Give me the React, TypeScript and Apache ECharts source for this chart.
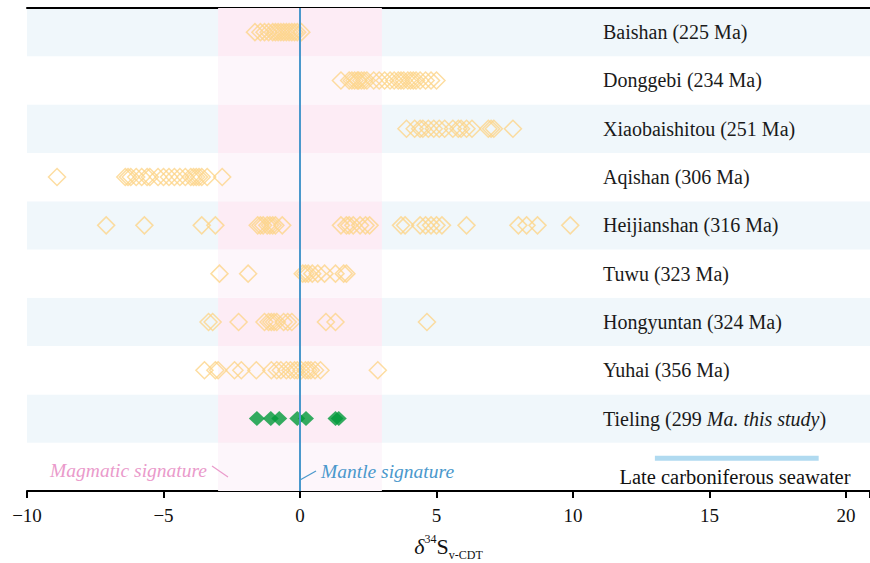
import React, { useEffect, useRef } from "react";
import * as echarts from "echarts";

// Row labels, bottom to top (bottom row is the annotation row)
const rowLabels = [
  "",
  "Tieling",
  "Yuhai (356 Ma)",
  "Hongyuntan (324 Ma)",
  "Tuwu (323 Ma)",
  "Heijianshan (316 Ma)",
  "Aqishan (306 Ma)",
  "Xiaobaishitou (251 Ma)",
  "Donggebi (234 Ma)",
  "Baishan (225 Ma)",
];

const xTicks = [-10, -5, 0, 5, 10, 15, 20];

const baishan = [-1.65, -1.45, -1.3, -1.15, -1.0, -0.9, -0.8, -0.7, -0.6, -0.5, -0.4, -0.3, -0.2, -0.1, 0.05];
const donggebi = [1.5, 1.8, 1.9, 2.0, 2.1, 2.15, 2.25, 2.35, 2.45, 2.7, 2.9, 3.1, 3.3, 3.45, 3.6, 3.7, 3.8, 3.95, 4.05, 4.15, 4.25, 4.4, 4.6, 4.8, 5.0];
const xiaobaishitou = [3.9, 4.2, 4.4, 4.5, 4.7, 4.9, 5.1, 5.3, 5.6, 5.8, 5.9, 6.1, 6.3, 6.9, 7.0, 7.1, 7.8];
const aqishan = [-8.9, -6.4, -6.3, -6.2, -6.0, -5.8, -5.6, -5.5, -5.2, -5.0, -4.8, -4.6, -4.4, -4.2, -4.0, -3.9, -3.8, -3.7, -3.6, -3.4, -2.85];
const heijianshan = [-7.1, -5.7, -3.6, -3.1, -1.55, -1.45, -1.35, -1.2, -1.1, -1.0, -0.9, -0.65, 1.5, 1.7, 1.8, 1.95, 2.2, 2.4, 2.55, 3.7, 3.85, 4.4, 4.6, 4.8, 5.0, 5.2, 6.1, 8.0, 8.3, 8.7, 9.9];
const tuwu = [-2.95, -1.9, 0.1, 0.2, 0.3, 0.45, 0.65, 0.9, 1.3, 1.6, 1.7];
const hongyuntan = [-3.35, -3.2, -2.25, -1.3, -1.15, -1.05, -0.95, -0.85, -0.6, -0.45, -0.3, 0.95, 1.3, 4.65];
const yuhai = [-3.5, -3.1, -3.0, -2.4, -2.15, -1.6, -1.05, -0.85, -0.7, -0.5, -0.35, -0.2, -0.1, 0.05, 0.2, 0.3, 0.4, 0.55, 0.75, 2.85];
const tieling = [-1.58, -1.07, -0.76, -0.1, 0.22, 1.3, 1.42];

const magmaticRange = [-3, 3];
const mantleValue = 0;
const seawaterRange = [13, 19];

const SERIF = "'Liberation Serif', 'DejaVu Serif', serif";

export default function App() {
  const ref = useRef<HTMLDivElement>(null);
  useEffect(() => {
    if (!ref.current) return;
    const chart = echarts.init(ref.current, undefined, { renderer: "svg" });

    const hollowRows: [string, number[], number][] = [
      ["Baishan", baishan, 9.5],
      ["Donggebi", donggebi, 8.5],
      ["Xiaobaishitou", xiaobaishitou, 7.5],
      ["Aqishan", aqishan, 6.5],
      ["Heijianshan", heijianshan, 5.5],
      ["Tuwu", tuwu, 4.5],
      ["Hongyuntan", hongyuntan, 3.5],
      ["Yuhai", yuhai, 2.5],
    ];

    const pinkAreas = rowLabels.map((_, i) => [
      { xAxis: magmaticRange[0], yAxis: i, itemStyle: { color: i % 2 === 1 ? "#fdecf5" : "#fdf6fb" } },
      { xAxis: magmaticRange[1], yAxis: i + 1 },
    ]);

    const series: any[] = [
      {
        type: "scatter",
        data: [],
        z: 1,
        silent: true,
        markArea: { silent: true, data: pinkAreas },
      },
      ...hollowRows.map(([name, vals, y]) => ({
        type: "scatter",
        name,
        z: 3,
        symbol: "diamond",
        symbolSize: 17,
        itemStyle: { color: "rgba(0,0,0,0)", borderColor: "#fdd58a", borderWidth: 1.5 },
        data: vals.map((v) => [v, y]),
      })),
      {
        type: "scatter",
        name: "Tieling",
        z: 4,
        symbol: "diamond",
        symbolSize: [16, 15],
        itemStyle: { color: "#009a3a" },
        data: tieling.map((v) => [v, 1.5]),
      },
      {
        type: "line",
        z: 2,
        silent: true,
        symbol: "none",
        lineStyle: { color: "#b0daf0", width: 5 },
        data: [
          [seawaterRange[0], 0.68],
          [seawaterRange[1], 0.68],
        ],
      },
      {
        type: "scatter",
        data: [],
        z: 6,
        markLine: {
          silent: true,
          symbol: "none",
          label: { show: false },
          lineStyle: { color: "#4a98cc", width: 2, type: "solid" },
          data: [{ xAxis: mantleValue }],
        },
      },
    ];

    chart.setOption({
      animation: false,
      grid: { left: 27, right: 0, top: 8, bottom: 72, containLabel: false, outerBoundsMode: "none" },
      xAxis: [
        {
          type: "value",
          min: -10,
          max: 20.88,
          interval: 5,
          position: "bottom",
          axisLine: { show: true, onZero: false, lineStyle: { color: "#000", width: 2 } },
          axisTick: { show: true, length: 7, lineStyle: { color: "#000", width: 2 } },
          splitLine: { show: false },
          axisLabel: {
            color: "#111",
            fontFamily: SERIF,
            fontSize: 19,
            margin: 15,
            formatter: (v: number) => (xTicks.includes(v) ? String(v).replace("-", "\u2212") : ""),
          },
          name: "{d|\u03b4}{sup|34}{s|S}{sub|v-CDT}",
          nameLocation: "middle",
          nameGap: 42,
          nameTextStyle: {
            color: "#111",
            fontFamily: SERIF,
            rich: {
              d: { fontFamily: SERIF, fontStyle: "italic", fontSize: 22, color: "#111", lineHeight: 24, verticalAlign: "bottom" },
              sup: { fontFamily: SERIF, fontSize: 12, color: "#111", verticalAlign: "top", lineHeight: 24 },
              s: { fontFamily: SERIF, fontSize: 22, color: "#111", lineHeight: 24, verticalAlign: "bottom" },
              sub: { fontFamily: SERIF, fontSize: 12, color: "#111", verticalAlign: "bottom", lineHeight: 12, padding: [0, 0, -4, 0] },
            },
          },
        },
        {
          type: "value",
          min: -10,
          max: 20.88,
          position: "top",
          axisLine: { show: true, onZero: false, lineStyle: { color: "#000", width: 2 } },
          axisTick: { show: false },
          axisLabel: { show: false },
          splitLine: { show: false },
        },
      ],
      yAxis: [
        {
          type: "value",
          min: 0,
          max: 10,
          interval: 1,
          axisLine: { show: false },
          axisTick: { show: false },
          axisLabel: { show: false },
          splitLine: { show: false },
          splitArea: { show: true, areaStyle: { color: ["#ffffff", "#f0f7fb"] } },
        },
        {
          type: "category",
          data: rowLabels,
          position: "left",
          axisLine: { show: false },
          axisTick: { show: false },
          splitLine: { show: false },
          axisLabel: {
            inside: true,
            margin: 576,
            align: "left",
            color: "#1a1a1a",
            fontFamily: SERIF,
            fontSize: 20,
            formatter: (v: string) => (v === "Tieling" ? "Tieling (299 {i|Ma. this study})" : v),
            rich: { i: { fontFamily: SERIF, fontStyle: "italic", fontSize: 20, color: "#1a1a1a" } },
          },
        },
      ],
      graphic: [
        {
          type: "text",
          x: 207,
          y: 470,
          style: {
            text: "Magmatic signature",
            fill: "#ea9acb",
            font: `italic 19.5px ${SERIF}`,
            align: "right",
            verticalAlign: "middle",
          },
          z: 10,
        },
        {
          type: "line",
          shape: { x1: 212, y1: 466, x2: 228, y2: 477 },
          style: { stroke: "#ea9acb", lineWidth: 1.2 },
          z: 10,
        },
        {
          type: "text",
          x: 321,
          y: 471,
          style: {
            text: "Mantle signature",
            fill: "#4a98cc",
            font: `italic 19.5px ${SERIF}`,
            align: "left",
            verticalAlign: "middle",
          },
          z: 10,
        },
        {
          type: "line",
          shape: { x1: 300, y1: 480, x2: 316, y2: 471 },
          style: { stroke: "#4a98cc", lineWidth: 1.2 },
          z: 10,
        },
        {
          type: "text",
          x: 735,
          y: 477,
          style: {
            text: "Late carboniferous seawater",
            fill: "#111",
            font: `20.5px ${SERIF}`,
            align: "center",
            verticalAlign: "middle",
          },
          z: 10,
        },
      ],
      series,
    });

    return () => chart.dispose();
  }, []);

  return <div ref={ref} style={{ width: 870, height: 563, position: "absolute", left: 0, top: 0 }} />;
}
